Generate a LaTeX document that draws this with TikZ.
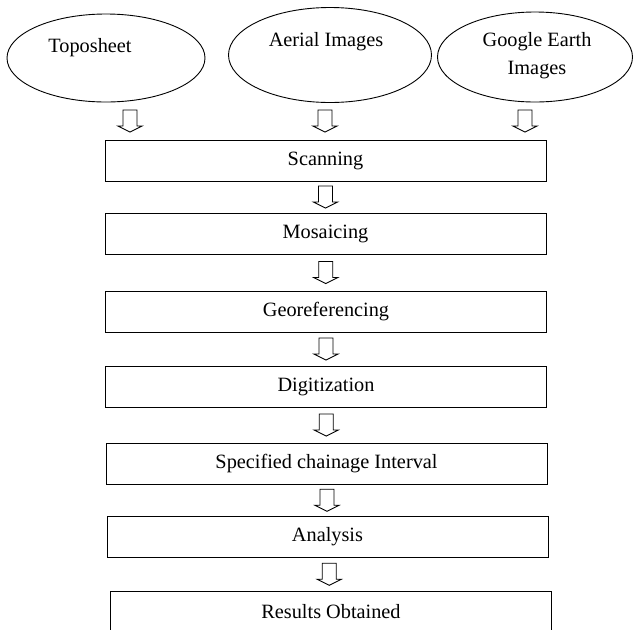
\documentclass[tikz,border=0pt]{standalone}
\usepackage{fontspec}
\setmainfont{Liberation Serif}
\usepackage{tikz}
\usetikzlibrary{shapes.geometric, calc}

\begin{document}
\begin{tikzpicture}[x=1pt,y=-1pt,
		every node/.style={font=\fontsize{20.3}{28}\selectfont},
		source/.style={draw,ellipse,line width=0.9pt,inner sep=0pt},
		stepbox/.style={draw,rectangle,line width=0.9pt,minimum width=441pt,minimum height=41pt,inner sep=0pt},
		downarrow/.pic={\draw[line width=0.9pt] (-7,-11)--(7,-11)--(7,5)--(12,5)--(0,11)--(-12,5)--(-7,5)--cycle;}
	]
	\useasboundingbox (0,0) rectangle (633,630);
	% sources
	\node[source,minimum width=198pt,minimum height=88pt] (topo) at (106,58) {};
	\node[source,minimum width=203pt,minimum height=95pt] (aerial) at (330,55) {};
	\node[source,minimum width=195pt,minimum height=90pt] (gearth) at (535,57) {};
	\node (topotext) at (90,48) {Toposheet};
	\node (aerialtext) at (326,42) {Aerial Images};
	\node[align=center] (gearthtext) at (537,56) {Google Earth\\Images};
	% steps
	\node[stepbox] (scan) at (325.5,160.5) {Scanning};
	\node[stepbox] (mosaic) at (325.5,233.5) {Mosaicing};
	\node[stepbox] (georef) at (326,311.5) {Georeferencing};
	\node[stepbox] (digit) at (326,386.5) {Digitization};
	\node[stepbox] (chain) at (326.5,463.5) {Specified chainage Interval};
	\node[stepbox] (analysis) at (327.5,537) {Analysis};
	\node[stepbox] (result) at (331,611.5) {Results Obtained};
	% arrows
	\pic at (130,121) {downarrow};
	\pic at (325,121) {downarrow};
	\pic at (525,121) {downarrow};
	\pic at ($(scan.south)!.5!(mosaic.north)$) {downarrow};
	\pic at ($(mosaic.south)!.5!(georef.north)$) {downarrow};
	\pic at ($(georef.south)!.5!(digit.north)$) {downarrow};
	\pic at ($(digit.south)!.5!(chain.north)$) {downarrow};
	\pic at ($(chain.south)!.5!(analysis.north)$) {downarrow};
	\pic at ($(analysis.south)!.5!(result.north)$) {downarrow};
\end{tikzpicture}
\end{document}
